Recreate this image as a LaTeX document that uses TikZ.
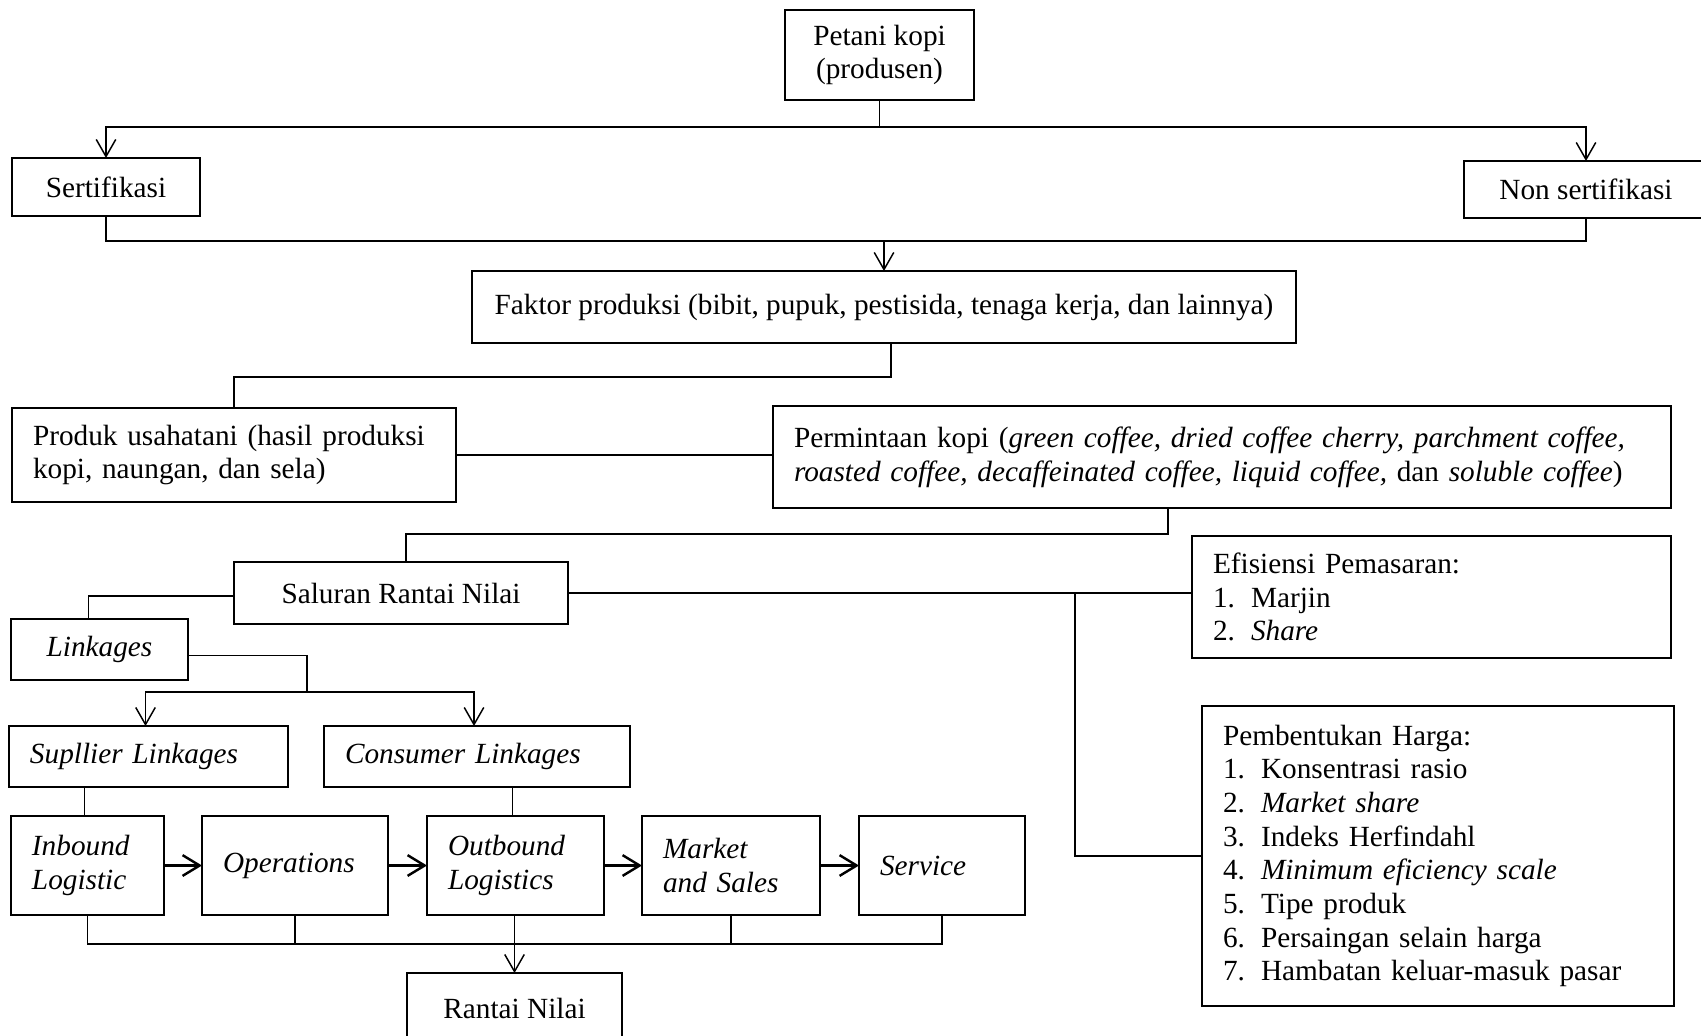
\documentclass[tikz,border=0pt]{standalone}
\usepackage{fontspec}
\setmainfont{Liberation Serif}
\usetikzlibrary{arrows.meta,positioning}
\newdimen\pix
\pix=0.41pt
\newcommand{\butir}[2]{\makebox[38\pix][l]{#1}#2}
\tikzset{
	kotak/.style={draw=black, line width=0.85pt, anchor=north west,
		inner sep=0pt, outer sep=0pt, align=center,
		font=\fontsize{12pt}{13.8pt}\selectfont},
	kotakkiri/.style={kotak, align=left, inner xsep=21\pix},
	garis/.style={line width=0.6pt, draw=black},
	panah/.style={-{Straight Barb[length=7pt,width=8pt]}, line width=0.6pt,
		draw=black},
	panahtebal/.style={-{Straight Barb[length=7pt,width=8.5pt]}, line width=1pt,
		draw=black},
}

\begin{document}
\begin{tikzpicture}[x=0.41pt, y=-0.41pt]
	\useasboundingbox (0,0) rectangle (1701,1035);
	% produsen dan sertifikasi
	\node[kotak, minimum width=189\pix, minimum height=90\pix] (petani) at (785,10) {Petani kopi\\(produsen)};
	\node[kotak, minimum width=188\pix, minimum height=58\pix] (sertif) at (12,158) {Sertifikasi};
	\node[kotak, minimum width=244\pix, minimum height=57\pix] (nonsert) at (1464,161) {Non sertifikasi};
	\node[kotak, minimum width=824\pix, minimum height=72\pix] (faktor) at (472,271) {Faktor produksi (bibit, pupuk, pestisida, tenaga kerja, dan lainnya)};
	\node[kotakkiri, text width=402\pix, minimum height=94\pix] (produk) at (12,408) {Produk usahatani (hasil produksi\\kopi, naungan, dan sela)};
	\node[kotakkiri, text width=856\pix, minimum height=102\pix] (minta) at (773,406) {Permintaan kopi (\textit{green coffee, dried coffee cherry, parchment coffee,}\\\textit{roasted coffee, decaffeinated coffee, liquid coffee,} dan \textit{soluble coffee})};
	% saluran rantai nilai
	\node[kotak, minimum width=334\pix, minimum height=62\pix] (saluran) at (234,562) {Saluran Rantai Nilai};
	\node[kotakkiri, text width=437\pix, minimum height=122\pix] (efisiensi) at (1192,536) {Efisiensi Pemasaran:\\\butir{1.}{Marjin}\\\butir{2.}{\textit{Share}}};
	\node[kotakkiri, text width=430\pix, minimum height=300\pix] (harga) at (1202,706) {Pembentukan Harga:\\\butir{1.}{Konsentrasi rasio}\\\butir{2.}{\textit{Market share}}\\\butir{3.}{Indeks Herfindahl}\\\butir{4.}{\textit{Minimum eficiency scale}}\\\butir{5.}{Tipe produk}\\\butir{6.}{Persaingan selain harga}\\\butir{7.}{Hambatan keluar-masuk pasar}};
	\node[kotak, minimum width=177\pix, minimum height=61\pix] (linkages) at (11,619) {\textit{Linkages}};
	\node[kotakkiri, text width=237\pix, minimum height=61\pix] (supplier) at (9,726) {\textit{Supllier Linkages}};
	\node[kotakkiri, text width=264\pix, minimum height=61\pix] (consumer) at (324,726) {\textit{Consumer Linkages}};
	% rantai nilai
	\node[kotakkiri, text width=111\pix, minimum height=99\pix] (inbound) at (11,816) {\textit{Inbound}\\\textit{Logistic}};
	\node[kotakkiri, text width=144\pix, minimum height=99\pix, right=38\pix of inbound] (operations) {\textit{Operations}};
	\node[kotakkiri, text width=135\pix, minimum height=99\pix, right=39\pix of operations] (outbound) {\textit{Outbound}\\\textit{Logistics}};
	\node[kotakkiri, text width=136\pix, minimum height=99\pix, right=38\pix of outbound] (market) {\textit{Market}\\\textit{and Sales}};
	\node[kotakkiri, text width=124\pix, minimum height=99\pix, right=39\pix of market] (service) {\textit{Service}};
	\node[kotak, minimum width=215\pix, minimum height=70\pix] (rantai) at (407,973) {Rantai Nilai};

	\draw[garis] (petani.south) -- ++(0,27) coordinate (cabang);
	\draw[panah] (cabang) -| (sertif.north);
	\draw[panah] (cabang) -| (nonsert.north);
	\coordinate (gabung) at (884,241);
	\draw[garis] (sertif.south) |- (gabung) -| (nonsert.south);
	\draw[panah] (gabung) -- (faktor.north);
	\draw[garis] ([shift={(7,0)}]faktor.south) -- ++(0,34) -| (produk.north);
	\draw[garis] (produk.east) -- (produk.east -| minta.west);
	\draw[garis] ([shift={(-54,0)}]minta.south) -- ++(0,26) -| ([shift={(5,0)}]saluran.north);
	\draw[garis] (saluran.east) -- (saluran.east -| efisiensi.west);
	\coordinate (simpang) at (1075,593);
	\draw[garis] (simpang) |- (harga.west);
	\draw[garis] ([shift={(0,3)}]saluran.west) -| ([shift={(-11,0)}]linkages.north);
	\coordinate (bagi) at (307,692);
	\draw[garis] ([shift={(0,6)}]linkages.east) -| (bagi);
	\draw[panah] (bagi) -| ([shift={(-3,0)}]supplier.north);
	\draw[panah] (bagi) -| ([shift={(-3,0)}]consumer.north);
	\draw[garis] ([shift={(-3,0)}]supplier.south -| inbound.north) -- ([shift={(-3,0)}]inbound.north);
	\draw[garis] ([shift={(-3,0)}]consumer.south -| outbound.north) -- ([shift={(-3,0)}]outbound.north);
	\foreach \a/\b in {inbound/operations, operations/outbound, outbound/market, market/service}
		\draw[panahtebal] (\a) -- (\b);
	\draw[garis] (inbound.south) -- ++(0,29) -| (service.south);
	\foreach \n in {operations, market}
		\draw[garis] (\n.south) -- ++(0,29);
	\draw[panah] (outbound.south -| rantai.north) -- (rantai.north);
\end{tikzpicture}
\end{document}
